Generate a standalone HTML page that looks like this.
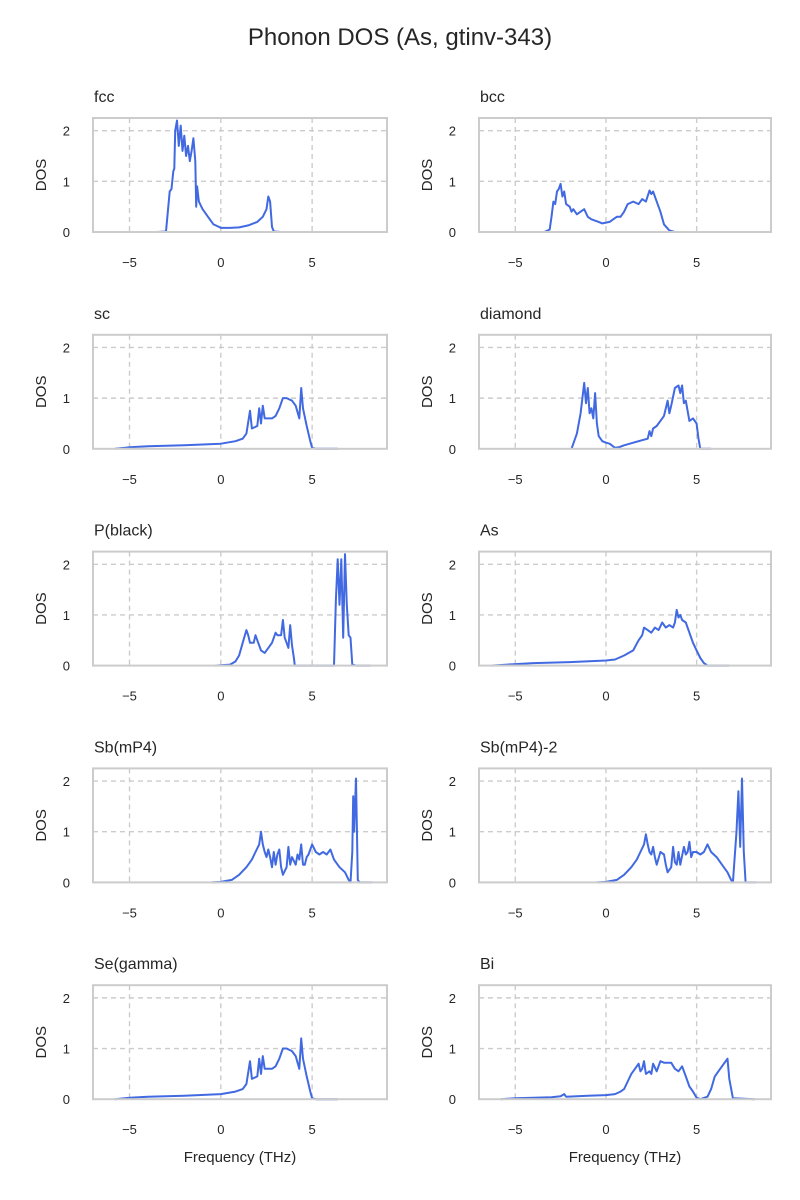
<!DOCTYPE html>
<html><head><meta charset="utf-8"><style>
body{margin:0;background:#fff}
svg{display:block;font-family:"Liberation Sans","DejaVu Sans",sans-serif}
</style></head><body>
<svg id="chart" width="800" height="1200" viewBox="0 0 800 1200">
<rect width="800" height="1200" fill="#fff"/>
<text x="400" y="45" text-anchor="middle" font-size="24" fill="#262626">Phonon DOS (As, gtinv-343)</text>
</svg>
<script>
const panelNames = ["fcc","bcc","sc","diamond","P(black)","As","Sb(mP4)","Sb(mP4)-2","Se(gamma)","Bi"];
const xTicks = [-5,0,5];
const yTicks = [0,1,2];
const fccF=[-3.5,-3.0,-2.8,-2.7,-2.6,-2.55,-2.5,-2.4,-2.3,-2.2,-2.1,-2.0,-1.9,-1.8,-1.7,-1.6,-1.5,-1.4,-1.35,-1.3,-1.2,-1.0,-0.7,-0.4,-0.1,0,0.5,1.0,1.5,2.0,2.3,2.5,2.6,2.7,2.8,2.9,3.3];
const fccD=[0,0.01,0.8,0.85,1.2,1.25,2.0,2.2,1.7,2.1,1.6,1.9,1.5,1.7,1.4,1.6,1.85,1.4,0.5,0.9,0.6,0.45,0.3,0.15,0.1,0.08,0.08,0.09,0.13,0.2,0.3,0.45,0.7,0.6,0.1,0.01,0];
const bccF=[-3.4,-3.1,-3.0,-2.9,-2.8,-2.7,-2.6,-2.5,-2.4,-2.3,-2.2,-2.0,-1.9,-1.8,-1.6,-1.4,-1.2,-1.0,-0.8,-0.4,-0.2,0.2,0.4,0.6,0.8,1.0,1.2,1.5,1.8,2.0,2.2,2.4,2.5,2.6,2.8,3.0,3.2,3.5,3.8];
const bccD=[0,0.05,0.3,0.6,0.55,0.8,0.85,0.95,0.7,0.8,0.55,0.5,0.4,0.45,0.35,0.4,0.45,0.3,0.25,0.2,0.17,0.2,0.25,0.3,0.3,0.4,0.55,0.6,0.55,0.65,0.6,0.82,0.75,0.8,0.6,0.4,0.15,0.03,0];
const scF=[-5.8,-5,-4,-2,0,0.8,1.2,1.4,1.6,1.7,2.0,2.1,2.2,2.3,2.4,2.8,3.0,3.2,3.4,3.6,3.9,4.1,4.3,4.4,4.5,4.7,4.9,5.0,5.2,6.4];
const scD=[0,0.03,0.05,0.07,0.1,0.15,0.2,0.3,0.75,0.4,0.45,0.8,0.5,0.85,0.6,0.6,0.65,0.8,1.0,1.0,0.95,0.85,0.6,1.2,0.8,0.45,0.15,0.02,0,0];
const diaF=[-1.9,-1.6,-1.4,-1.3,-1.2,-1.1,-1.0,-0.9,-0.8,-0.7,-0.6,-0.5,-0.4,-0.2,0,0.2,0.5,0.7,1,1.5,2,2.3,2.4,2.5,2.6,2.8,3.0,3.2,3.4,3.5,3.6,3.8,4.0,4.1,4.2,4.3,4.4,4.6,4.8,5.0,5.1,5.2,5.8];
const diaD=[0,0.3,0.7,1.0,1.3,0.9,1.2,0.7,0.8,0.6,1.1,0.5,0.25,0.15,0.12,0.1,0.02,0.03,0.07,0.12,0.17,0.2,0.35,0.25,0.4,0.45,0.55,0.65,0.95,0.7,0.85,1.2,1.25,1.1,1.25,0.9,0.95,0.55,0.6,0.5,0.2,0,0];
const pF=[-0.3,0.5,0.8,1.0,1.2,1.4,1.5,1.6,1.8,1.9,2.0,2.2,2.4,2.6,2.8,3.0,3.1,3.3,3.4,3.5,3.6,3.7,3.8,3.9,4.0,4.05,6.2,6.3,6.4,6.5,6.6,6.7,6.8,6.9,7.0,7.1,7.2,7.4,8.2];
const pD=[0,0.02,0.08,0.2,0.45,0.7,0.6,0.45,0.45,0.6,0.5,0.3,0.25,0.35,0.45,0.65,0.6,0.6,0.9,0.55,0.45,0.35,0.8,0.4,0.15,0,0,1.3,2.1,1.2,2.1,0.55,2.2,1.2,0.6,0.55,0.02,0,0];
const asF=[-6.3,-5,-4,-2,0,0.5,1,1.5,1.8,2.0,2.1,2.3,2.5,2.7,2.9,3.1,3.3,3.5,3.7,3.8,3.9,4.0,4.1,4.2,4.4,4.6,4.8,5.0,5.2,5.4,5.6,6.8];
const asD=[0,0.03,0.05,0.07,0.1,0.12,0.2,0.3,0.5,0.6,0.75,0.7,0.65,0.75,0.7,0.85,0.75,0.8,0.75,0.85,1.1,0.95,1.0,0.9,0.85,0.65,0.45,0.3,0.15,0.05,0,0];
const sbF=[-0.5,0,0.6,1.0,1.4,1.7,1.9,2.1,2.2,2.3,2.4,2.5,2.6,2.7,2.8,2.9,3.0,3.1,3.2,3.3,3.4,3.6,3.7,3.8,3.9,4.1,4.2,4.3,4.4,4.5,4.6,4.7,4.8,5.0,5.2,5.4,5.6,5.8,6.0,6.2,6.5,6.8,7.0,7.1,7.2,7.25,7.3,7.4,7.5,7.6,8.3];
const sbD=[0,0.01,0.05,0.15,0.3,0.45,0.6,0.75,1.0,0.75,0.6,0.5,0.65,0.5,0.3,0.6,0.35,0.55,0.65,0.3,0.15,0.3,0.7,0.35,0.5,0.35,0.55,0.45,0.75,0.35,0.35,0.5,0.55,0.75,0.6,0.55,0.6,0.55,0.65,0.45,0.3,0.2,0.05,0,0.6,1.7,1.0,2.05,0.05,0,0];
const sb2F=[-0.5,0,0.6,1.0,1.4,1.7,1.9,2.1,2.2,2.3,2.4,2.5,2.6,2.7,2.8,3.0,3.2,3.3,3.4,3.6,3.7,3.8,3.9,4.0,4.1,4.3,4.4,4.5,4.6,4.7,4.8,5.0,5.2,5.4,5.6,5.8,6.1,6.4,6.7,6.9,7.0,7.2,7.3,7.4,7.5,7.6,7.7,8.3];
const sb2D=[0,0.01,0.05,0.15,0.3,0.45,0.6,0.75,0.95,0.75,0.6,0.55,0.7,0.5,0.35,0.6,0.55,0.35,0.2,0.3,0.7,0.4,0.35,0.6,0.35,0.7,0.55,0.6,0.8,0.5,0.6,0.6,0.55,0.6,0.75,0.6,0.5,0.35,0.2,0.05,0,1.0,1.8,0.7,2.05,0.6,0,0];
const seF=[-5.8,-5,-4,-2,0,0.8,1.2,1.4,1.6,1.7,2.0,2.1,2.2,2.3,2.4,2.8,3.0,3.2,3.4,3.6,3.9,4.1,4.3,4.4,4.5,4.7,4.9,5.0,5.2,6.4];
const seD=[0,0.03,0.05,0.07,0.1,0.15,0.2,0.3,0.75,0.4,0.45,0.8,0.5,0.85,0.6,0.6,0.65,0.8,1.0,1.0,0.95,0.85,0.6,1.2,0.8,0.45,0.15,0.02,0,0];
const biF=[-5.8,-5,-3,-2.5,-2.3,-2.2,-1,0,0.5,0.8,1.0,1.2,1.4,1.6,1.8,1.9,2.0,2.1,2.2,2.4,2.5,2.6,2.8,3.0,3.2,3.6,3.8,4.0,4.2,4.4,4.6,4.8,5.0,5.2,5.6,5.8,6.0,6.3,6.6,6.7,6.8,7.0,8.2];
const biD=[0,0.02,0.04,0.06,0.1,0.05,0.07,0.08,0.1,0.15,0.2,0.35,0.5,0.6,0.7,0.55,0.6,0.75,0.5,0.55,0.5,0.7,0.55,0.75,0.72,0.72,0.6,0.55,0.65,0.45,0.25,0.15,0.03,0,0.05,0.2,0.45,0.6,0.75,0.8,0.4,0.02,0];
const freqs=[fccF,bccF,scF,diaF,pF,asF,sbF,sb2F,seF,biF];
const doses=[fccD,bccD,scD,diaD,pD,asD,sbD,sb2D,seD,biD];

const NS="http://www.w3.org/2000/svg";
const svg=document.getElementById('chart');
const xMin=-7.0,xMax=9.1,yMin=0,yMax=2.25;
function mk(tag,attrs,parent){const e=document.createElementNS(NS,tag);for(const k in attrs)e.setAttribute(k,attrs[k]);(parent||svg).appendChild(e);return e;}
panelNames.forEach((name,i)=>{
  const col=i%2,row=Math.floor(i/2);
  const L=col?479:93,R=col?771:387,T=118+row*216.8,B=T+114;
  const sx=v=>L+(v-xMin)/(xMax-xMin)*(R-L);
  const sy=v=>B-(v-yMin)/(yMax-yMin)*(B-T);
  const g=mk('g',{});
  
  
  xTicks.forEach(t=>{
    const l=mk('line',{x1:sx(t),x2:sx(t),y1:T,y2:B,stroke:'#cccccc','stroke-width':1.4,'stroke-dasharray':'5,4'},g);
    
    
    const tx=mk('text',{x:sx(t),y:B+35,'text-anchor':'middle','font-size':13,fill:'#262626'},g);
    tx.textContent=t===0?'0':(t<0?'\u2212'+Math.abs(t):String(t));
    
    
  });
  yTicks.forEach(t=>{
    if(t>0){const l=mk('line',{x1:L,x2:R,y1:sy(t),y2:sy(t),stroke:'#cccccc','stroke-width':1.4,'stroke-dasharray':'5,4'},g);
    
    }
    const tx=mk('text',{x:L-23,y:sy(t)+5,'text-anchor':'end','font-size':13,fill:'#262626'},g);
    tx.textContent=String(t);
    
    
  });
  const pts=freqs[i].map((f,k)=>sx(f).toFixed(1)+','+sy(doses[i][k]).toFixed(1)).join(' ');
  const line=mk('polyline',{points:pts,fill:'none',stroke:'#4169e1','stroke-width':2,'stroke-linejoin':'round'},g);
  
  
  const fr=mk('rect',{x:L,y:T,width:R-L,height:B-T,fill:'none',stroke:'#cccccc','stroke-width':2},g);
  
  
  const tt=mk('text',{x:L+1,y:T-16,'font-size':16,fill:'#262626'},g);
  tt.textContent=name;
  
  
  const yl=mk('text',{x:0,y:0,transform:`translate(${L-47},${(T+B)/2}) rotate(-90)`,'text-anchor':'middle','font-size':15,fill:'#262626'},g);
  yl.textContent='DOS';
  
  
  if(row===4){
    const xl=mk('text',{x:(L+R)/2,y:B+63,'text-anchor':'middle','font-size':15,fill:'#262626'},g);
    xl.textContent='Frequency (THz)';
    
    
  }
});
</script>
</body></html>
